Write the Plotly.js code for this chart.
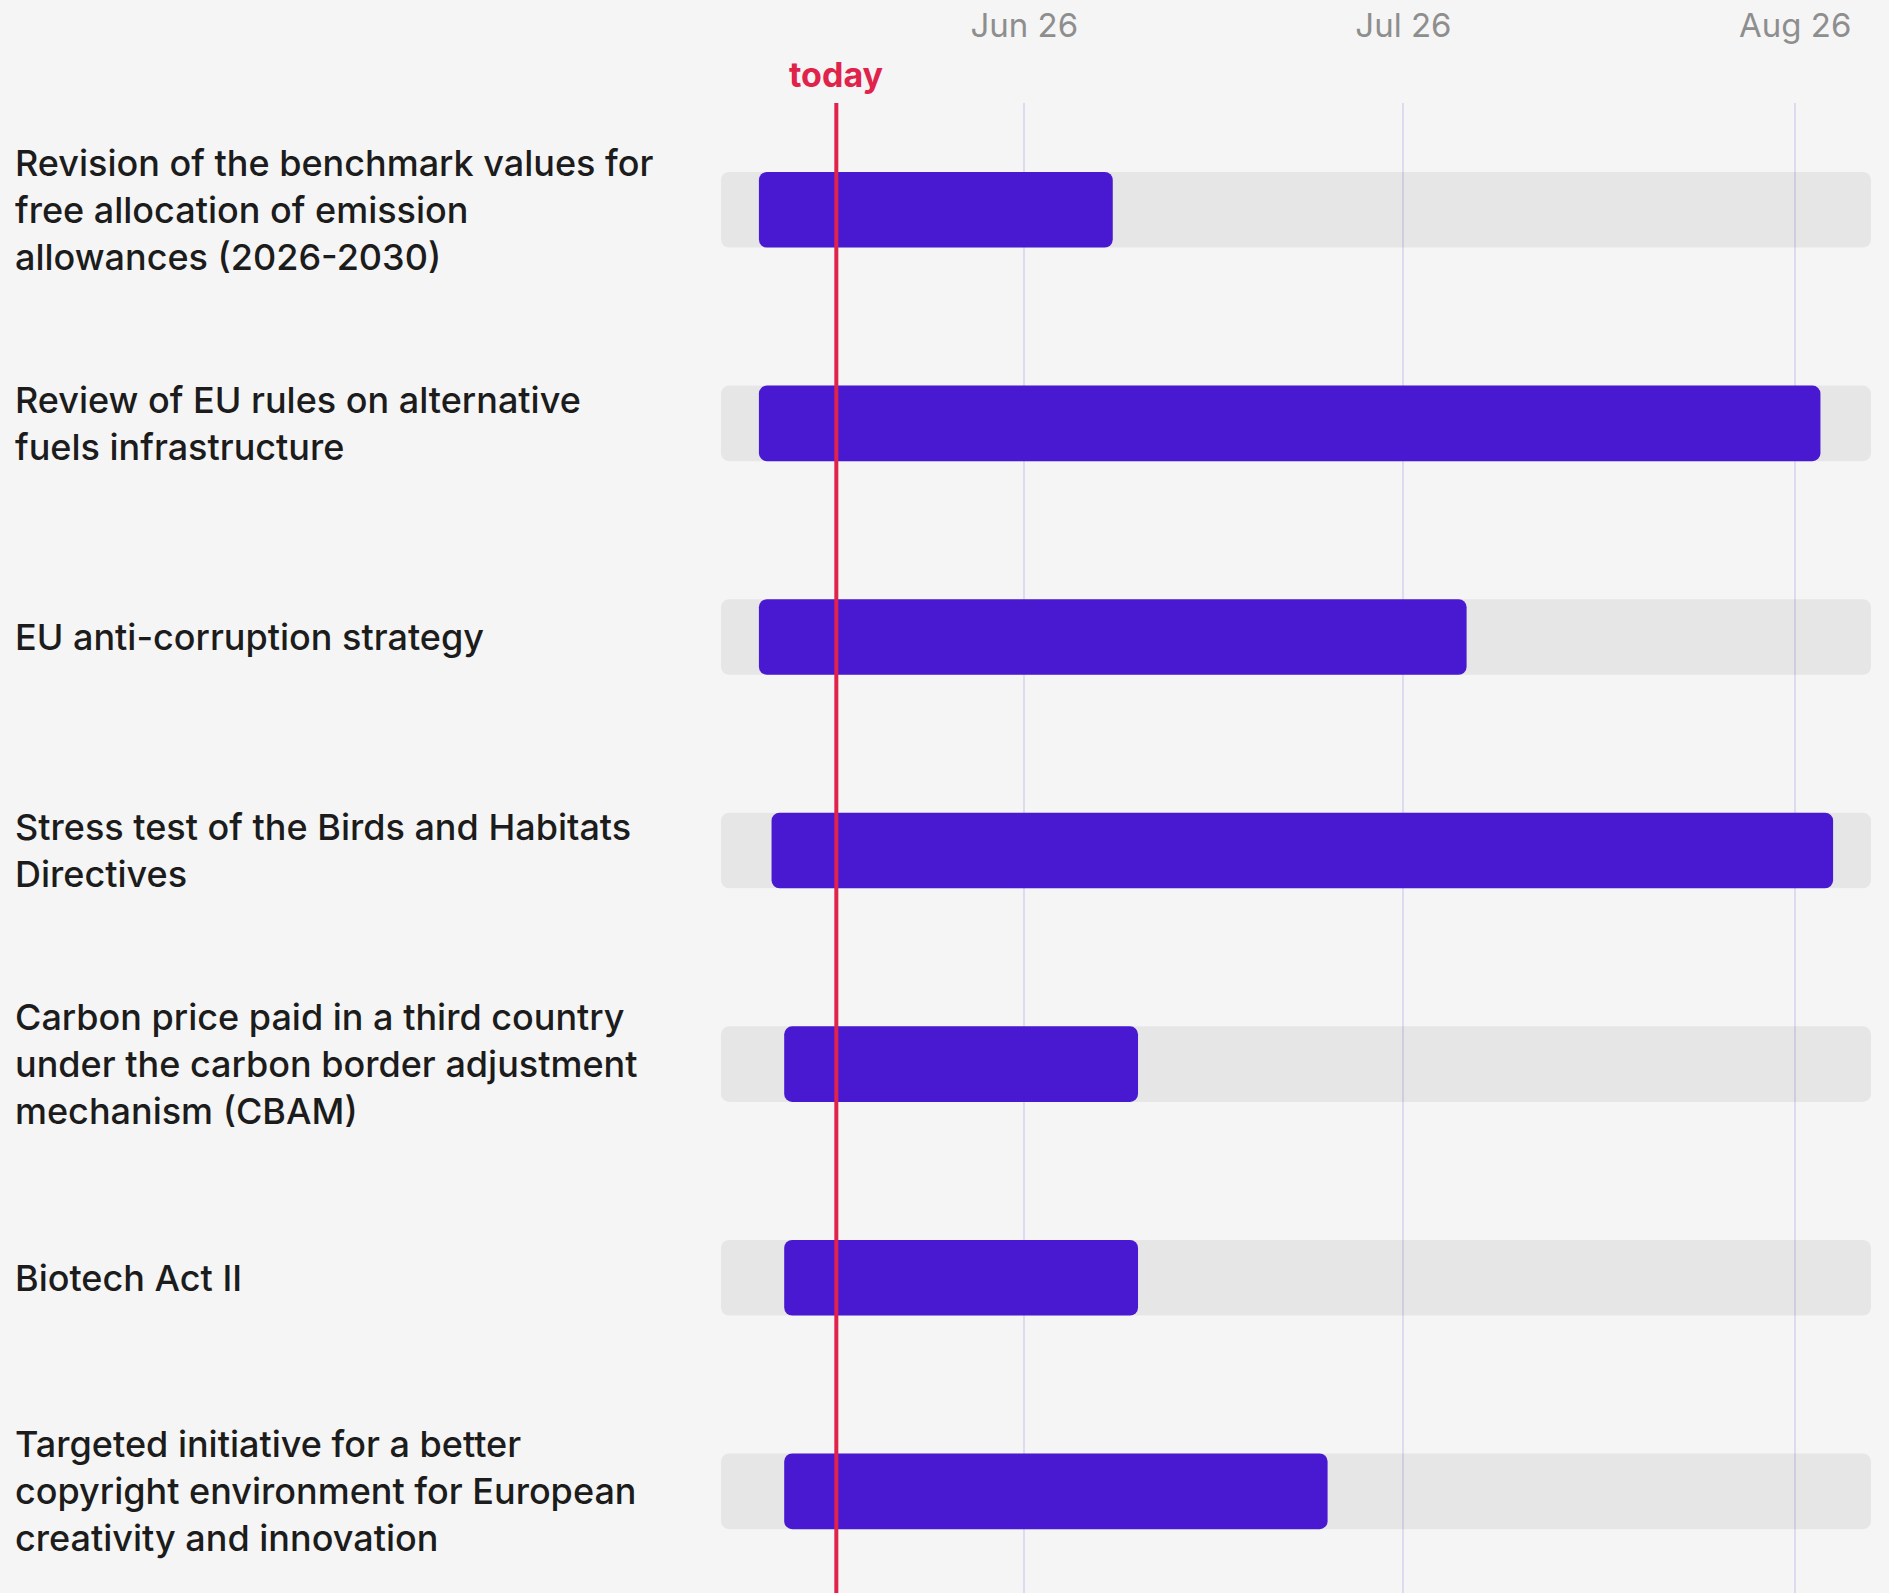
<!DOCTYPE html>
<html>
<head>
<meta charset="utf-8">
<script src="https://cdn.plot.ly/plotly-3.0.1.min.js"></script>
<style>
  html, body { margin: 0; padding: 0; background: #f5f5f5; }
  #chart { width: 1889px; height: 1593px; }
</style>
</head>
<body>
<div id="chart"></div>
<script>
// ---- data ----
const categories = [
  "Revision of the benchmark values for<br>free allocation of emission<br>allowances (2026-2030)",
  "Review of EU rules on alternative<br>fuels infrastructure",
  "EU anti-corruption strategy",
  "Stress test of the Birds and Habitats<br>Directives",
  "Carbon price paid in a third country<br>under the carbon border adjustment<br>mechanism (CBAM)",
  "Biotech Act II",
  "Targeted initiative for a better<br>copyright environment for European<br>creativity and innovation"
];
const startDates = ["2025-06-05", "2025-06-05", "2025-06-05", "2025-06-06", "2025-06-07", "2025-06-07", "2025-06-07"];
const endDates   = ["2025-07-03", "2025-08-28", "2025-07-31", "2025-08-29", "2025-07-05", "2025-07-05", "2025-07-20"];
const todayDate = "2025-06-11 03:00";
const rangeStart = "2025-06-02";
const rangeEnd = "2025-09-01";
const todayLabel = "today";

// ---- build ----
const ms = s => Date.parse(s.replace(" ", "T") + (s.length === 10 ? "T00:00:00Z" : ":00Z"));
const idx = categories.map((_, i) => i);
const durations = startDates.map((s, i) => ms(endDates[i]) - ms(s));
const trackLen = ms(rangeEnd) - ms(rangeStart);

const track = {
  type: "bar", orientation: "h",
  y: idx, base: idx.map(() => rangeStart), x: idx.map(() => trackLen),
  width: 0.354,
  marker: { color: "rgba(0,0,0,0.057)", cornerradius: 8, line: { width: 0 } },
  hoverinfo: "skip", showlegend: false
};
const bars = {
  type: "bar", orientation: "h",
  y: idx, base: startDates, x: durations,
  width: 0.354,
  marker: { color: "#4919d1", cornerradius: 8, line: { width: 0 } },
  showlegend: false
};

const W = 1889, H = 1593, L = 721, R = 18, T = 103;
const plotW = W - L - R;

const annotations = categories.map((c, i) => ({
  text: c, xref: "paper", yref: "y", x: (13 - L) / plotW, y: i,
  xanchor: "left", yanchor: "middle", align: "left", showarrow: false,
  font: { family: "Inter, sans-serif", size: 36, color: "#1c1c1c", weight: 500 }
}));
annotations.push({
  text: todayLabel, xref: "x", yref: "paper", x: todayDate, y: 1,
  xanchor: "center", yanchor: "bottom", yshift: 6, showarrow: false,
  font: { family: "Inter, sans-serif", size: 34, color: "#e0234b", weight: 700 }
});

const layout = {
  width: W, height: H,
  margin: { l: L, r: R, t: T, b: 0, pad: 0 },
  paper_bgcolor: "#f5f5f5", plot_bgcolor: "#f5f5f5",
  barmode: "overlay",
  xaxis: {
    type: "date", side: "top", range: [rangeStart, rangeEnd],
    tick0: "2025-06-26", dtick: "M1", tickformat: "%b %d",
    showgrid: true, gridcolor: "#dcdbef", gridwidth: 2,
    zeroline: false, showline: false, ticks: "",
    ticklabelstandoff: 58,
    tickfont: { family: "Inter, sans-serif", size: 33, color: "#8e8e8e" }
  },
  yaxis: {
    type: "linear", range: [6.476, -0.5],
    showgrid: false, zeroline: false, showline: false,
    showticklabels: false, ticks: ""
  },
  shapes: [{
    type: "line", xref: "x", yref: "paper", x0: todayDate, x1: todayDate, y0: 0, y1: 1,
    layer: "above", line: { color: "#e0234b", width: 4 }
  }],
  annotations: annotations
};

Plotly.newPlot("chart", [track, bars], layout, { staticPlot: true, displayModeBar: false });
</script>
</body>
</html>
